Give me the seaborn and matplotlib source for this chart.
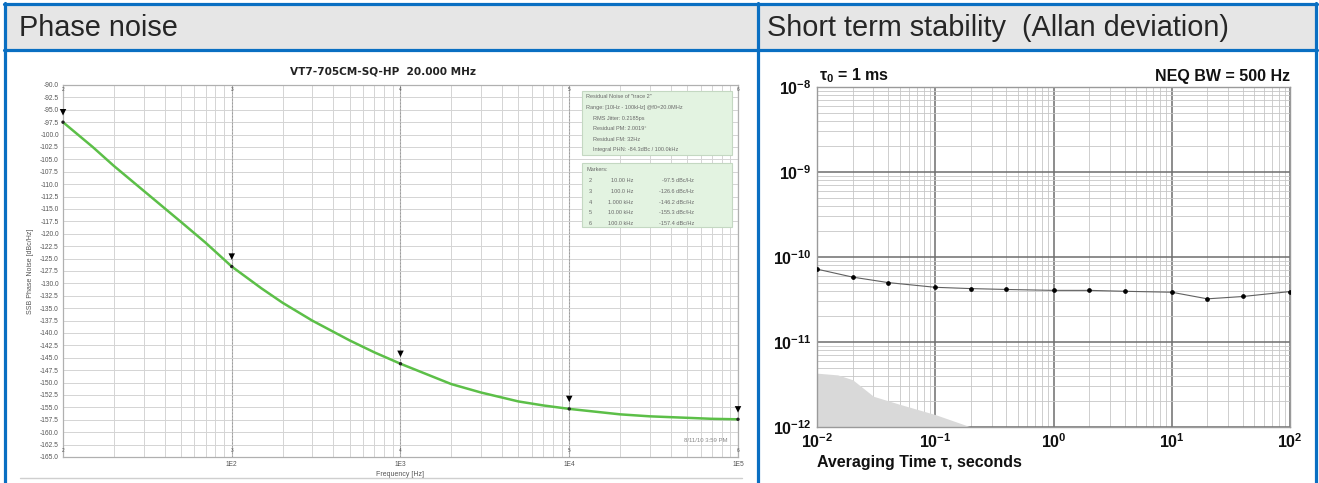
import numpy as np
import matplotlib
matplotlib.use('Agg')
import matplotlib.pyplot as plt
import matplotlib.ticker as mticker
from matplotlib.patches import Rectangle
from matplotlib.lines import Line2D
import seaborn as sns

# Phase noise trace
pn_freq = [10, 15, 20, 30, 50, 70, 100, 150, 200, 300, 500, 700, 1000, 1500, 2000,
           3000, 5000, 7000, 10000, 20000, 30000, 50000, 70000, 100000]
pn_dbc = [-97.5, -102.5, -106.3, -111.3, -117.6, -121.8, -126.6, -131.0, -133.9,
          -137.5, -141.5, -143.9, -146.2, -148.6, -150.3, -152.0, -153.8, -154.6,
          -155.3, -156.4, -156.8, -157.1, -157.3, -157.4]

# marker table
mk_num = ['2', '3', '4', '5', '6']
mk_freq = [10, 100, 1000, 10000, 100000]
mk_freq_txt = ['10.00 Hz', '100.0 Hz', '1.000 kHz', '10.00 kHz', '100.0 kHz']
mk_dbc = [-97.5, -126.6, -146.2, -155.3, -157.4]

info_lines = ['Residual Noise of "trace 2"', 'Range: [10Hz - 100kHz] @f0=20.0MHz',
              'RMS Jitter: 0.2185ps', 'Residual PM: 2.0019\u00b0', 'Residual FM: 32Hz',
              'Integral PHN: -84.3dBc / 100.0kHz']

# Allan deviation
tau = [0.01, 0.02, 0.04, 0.1, 0.2, 0.4, 1, 2, 4, 10, 20, 40, 100]
adev = [7.2e-11, 5.8e-11, 5.0e-11, 4.4e-11, 4.25e-11, 4.15e-11, 4.05e-11, 4.05e-11,
        3.95e-11, 3.85e-11, 3.22e-11, 3.43e-11, 3.92e-11]
floor_tau = [0.01, 0.015, 0.02, 0.03, 0.05, 0.1, 0.2]
floor_adev = [4.3e-12, 4.1e-12, 3.6e-12, 2.3e-12, 1.85e-12, 1.4e-12, 1.0e-12]

sns.set_style('white')
plt.rcParams['font.family'] = ['Liberation Sans', 'DejaVu Sans']
plt.rcParams['mathtext.fontset'] = 'custom'
plt.rcParams['mathtext.rm'] = 'Liberation Sans:bold'
plt.rcParams['mathtext.it'] = 'Liberation Sans:bold'
plt.rcParams['mathtext.bf'] = 'Liberation Sans:bold'

W, H = 1319, 483
fig = plt.figure(figsize=(W / 100, H / 100), dpi=100)


def fx(x):
    return x / W


def fy(y):
    return 1 - y / H


# header band and blue frame
fig.patches.append(Rectangle((fx(5), fy(50)), fx(1311), 46 / H, transform=fig.transFigure,
                             facecolor='#e6e6e6', edgecolor='none', zorder=0))
blue = '#0a6fc2'
for xs, ys in [([4, 1317], [4, 4]), ([4, 1317], [50, 50]), ([5, 5], [3, 483]),
               ([758, 758], [3, 483]), ([1316, 1316], [3, 483])]:
    fig.add_artist(Line2D([fx(v) for v in xs], [fy(v) for v in ys], color=blue, lw=2.3,
                          transform=fig.transFigure, zorder=5))
fig.text(fx(19), fy(28), 'Phase noise', fontsize=20.8, va='center', ha='left')
fig.text(fx(767), fy(28), 'Short term stability  (Allan deviation)', fontsize=20.8,
         va='center', ha='left')
fig.add_artist(Line2D([fx(20), fx(742)], [fy(478), fy(478)], color='#cfcfcf', lw=1,
                      transform=fig.transFigure))

# ---------------- phase noise ----------------
ax1 = fig.add_axes([fx(63), fy(457), 675 / W, 372 / H])
ax1.set_xscale('log')
sns.lineplot(x=pn_freq, y=pn_dbc, color='#5cbf48', lw=1.8, ax=ax1, zorder=4)
ax1.set_xlim(10, 100000)
ax1.set_ylim(-165, -90)
ax1.set_yticks(np.arange(-165, -89, 2.5))
ax1.yaxis.set_major_formatter(mticker.FuncFormatter(lambda v, p: f'{v:.1f}'))
ax1.set_xticks([100, 1000, 10000, 100000])
ax1.set_xticklabels(['1E2', '1E3', '1E4', '1E5'])
ax1.xaxis.set_minor_locator(mticker.LogLocator(base=10, subs=np.arange(2, 10), numticks=100))
ax1.xaxis.set_minor_formatter(mticker.NullFormatter())
ax1.tick_params(which='both', length=0, labelsize=4.8, labelcolor='#555', pad=3)
ax1.grid(which='major', axis='y', color='#d4d4d4', lw=0.7)
ax1.grid(which='minor', axis='x', color='#d4d4d4', lw=0.7)
ax1.grid(which='major', axis='x', color='#bdbdbd', lw=0.8)
for s in ax1.spines.values():
    s.set_color('#b0b0b0')
    s.set_linewidth(0.9)
for f, n in zip(mk_freq, mk_num):
    ax1.axvline(f, color='#999', lw=0.6, ls=(0, (2, 2)), zorder=2)
    ax1.text(f, -164.2, n, fontsize=3.5, color='#555', ha='center', va='bottom')
    ax1.text(f, -90.4, n, fontsize=3.5, color='#555', ha='center', va='top')
sns.scatterplot(x=mk_freq, y=[v + 2.0 for v in mk_dbc], marker='v', color='black', s=22,
                edgecolor='none', ax=ax1, zorder=6, clip_on=False)
sns.scatterplot(x=mk_freq, y=mk_dbc, color='#222', s=6, edgecolor='none', ax=ax1, zorder=6,
                clip_on=False)
ax1.set_xlabel('Frequency [Hz]', fontsize=5, color='#555', labelpad=2)
ax1.set_ylabel('SSB Phase Noise [dBc/Hz]', fontsize=5, color='#555', labelpad=4)
fig.text(fx(383), fy(71), 'VT7-705CM-SQ-HP  20.000 MHz', fontsize=7.6, fontweight='bold',
         family='DejaVu Sans', ha='center', va='center', color='#222')
ax1.text(0.985, 0.045, '8/11/10 3:59 PM', transform=ax1.transAxes, fontsize=4.3,
         color='#8a8a8a', ha='right', va='center')

# info boxes
box_kw = dict(transform=ax1.transAxes, facecolor='#e3f3e1', edgecolor='#c4d8c2', lw=0.8,
              zorder=7)
ax1.add_patch(Rectangle((0.769, 0.812), 0.222, 0.172, **box_kw))
ax1.add_patch(Rectangle((0.769, 0.618), 0.222, 0.172, **box_kw))
tkw = dict(transform=ax1.transAxes, fontsize=4.0, color='#6a6a6a', va='center', zorder=8)
for i, line in enumerate(info_lines):
    x0 = 0.775 if i < 2 else 0.785
    ax1.text(x0, 0.968 - i * 0.0285, line, **tkw)
ax1.text(0.775, 0.772, 'Markers:', **tkw)
for i in range(len(mk_num)):
    yy = 0.742 - i * 0.0285
    ax1.text(0.779, yy, mk_num[i], **tkw)
    ax1.text(0.845, yy, mk_freq_txt[i], ha='right', **tkw)
    ax1.text(0.935, yy, f'{mk_dbc[i]:.1f} dBc/Hz', ha='right', **tkw)

# ---------------- Allan deviation ----------------
ax2 = fig.add_axes([fx(817), fy(427), 473 / W, 340 / H])
ax2.set_xscale('log')
ax2.set_yscale('log')
ax2.set_xlim(1e-2, 1e2)
ax2.set_ylim(1e-12, 1e-8)
ax2.set_axisbelow(True)
ax2.fill_between(floor_tau, floor_adev, 1e-12, color='#d9d9d9', lw=0, zorder=2)
sns.lineplot(x=tau, y=adev, color='#606060', lw=0.8, marker='o', markersize=2.6,
             markerfacecolor='black', markeredgecolor='black', ax=ax2, zorder=4)
ax2.xaxis.set_major_locator(mticker.LogLocator(base=10, numticks=100))
ax2.yaxis.set_major_locator(mticker.LogLocator(base=10, numticks=100))
ax2.xaxis.set_minor_locator(mticker.LogLocator(base=10, subs=np.arange(2, 10), numticks=100))
ax2.yaxis.set_minor_locator(mticker.LogLocator(base=10, subs=np.arange(2, 10), numticks=100))
ax2.xaxis.set_minor_formatter(mticker.NullFormatter())
ax2.yaxis.set_minor_formatter(mticker.NullFormatter())
fmt = mticker.FuncFormatter(lambda v, p: r'$\mathbf{10^{%d}}$' % round(np.log10(v)))
ax2.xaxis.set_major_formatter(fmt)
ax2.yaxis.set_major_formatter(fmt)
ax2.tick_params(which='both', length=0, labelsize=11.5, labelcolor='#111', pad=4)
ax2.grid(which='major', color='#6e6e6e', lw=1.1)
ax2.grid(which='minor', color='#c6c6c6', lw=0.6)
for s in ax2.spines.values():
    s.set_color('#9a9a9a')
    s.set_linewidth(1.0)
fig.text(fx(819), fy(76), r'$\tau_0$ = 1 ms', fontsize=11.5, fontweight='bold',
         ha='left', va='center', color='#111')
fig.text(fx(1290), fy(76), 'NEQ BW = 500 Hz', fontsize=11.5, fontweight='bold',
         ha='right', va='center', color='#111')
fig.text(fx(817), fy(463), 'Averaging Time \u03c4, seconds', fontsize=11.5,
         fontweight='bold', ha='left', va='center', color='#111')

fig.savefig('out.png', dpi=100)
